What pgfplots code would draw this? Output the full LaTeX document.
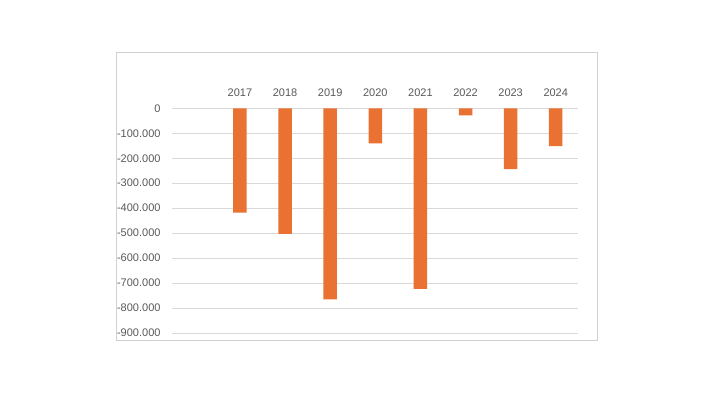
\documentclass[border=0pt]{standalone}
\usepackage{pgfplots}
\pgfplotsset{compat=1.18}
\usepackage{fontspec}
\setmainfont{Liberation Sans}
\definecolor{barorange}{HTML}{E97132}
\definecolor{gridgray}{HTML}{D9D9D9}
\definecolor{textgray}{HTML}{595959}
\definecolor{boxgray}{HTML}{D0D0D0}
\begin{document}
\begin{tikzpicture}
\useasboundingbox[fill=white] (-172.3pt,-59pt) rectangle (545.7pt,333pt);
\draw[boxgray, line width=0.8pt] (-56.3pt,-7pt) rectangle (424.7pt,281pt);
\begin{axis}[
  at={(0pt,0pt)}, anchor=south west,
  scale only axis, width=406pt, height=224.7pt,
  xmin=-0.5, xmax=8.5, ymin=-900000, ymax=0,
  ytick={-900000,-800000,-700000,-600000,-500000,-400000,-300000,-200000,-100000,0},
  scaled y ticks=false,
  yticklabel style={/pgf/number format/fixed, /pgf/number format/precision=0, /pgf/number format/1000 sep={.}, /pgf/number format/assume math mode=true},
  xtick={1,2,3,4,5,6,7,8},
  xticklabels={2017,2018,2019,2020,2021,2022,2023,2024},
  xticklabel pos=right,
  axis line style={draw=none},
  major tick length=0pt,
  tick style={draw=none},
  ymajorgrids, grid style={gridgray, line width=0.8pt},
  ticklabel style={font=\fontsize{11pt}{13pt}\selectfont, text=textgray, inner sep=0pt},
  xticklabel style={anchor=south, yshift=11pt},
  yticklabel style={anchor=east, xshift=-11.6pt},
  ybar, bar width=13.5pt,
]
\addplot[fill=barorange, draw=none] coordinates {
(1,-418000) (2,-503000) (3,-765000) (4,-140000) (5,-723000) (6,-28000) (7,-244000) (8,-151000)
};
\end{axis}
\end{tikzpicture}
\end{document}
